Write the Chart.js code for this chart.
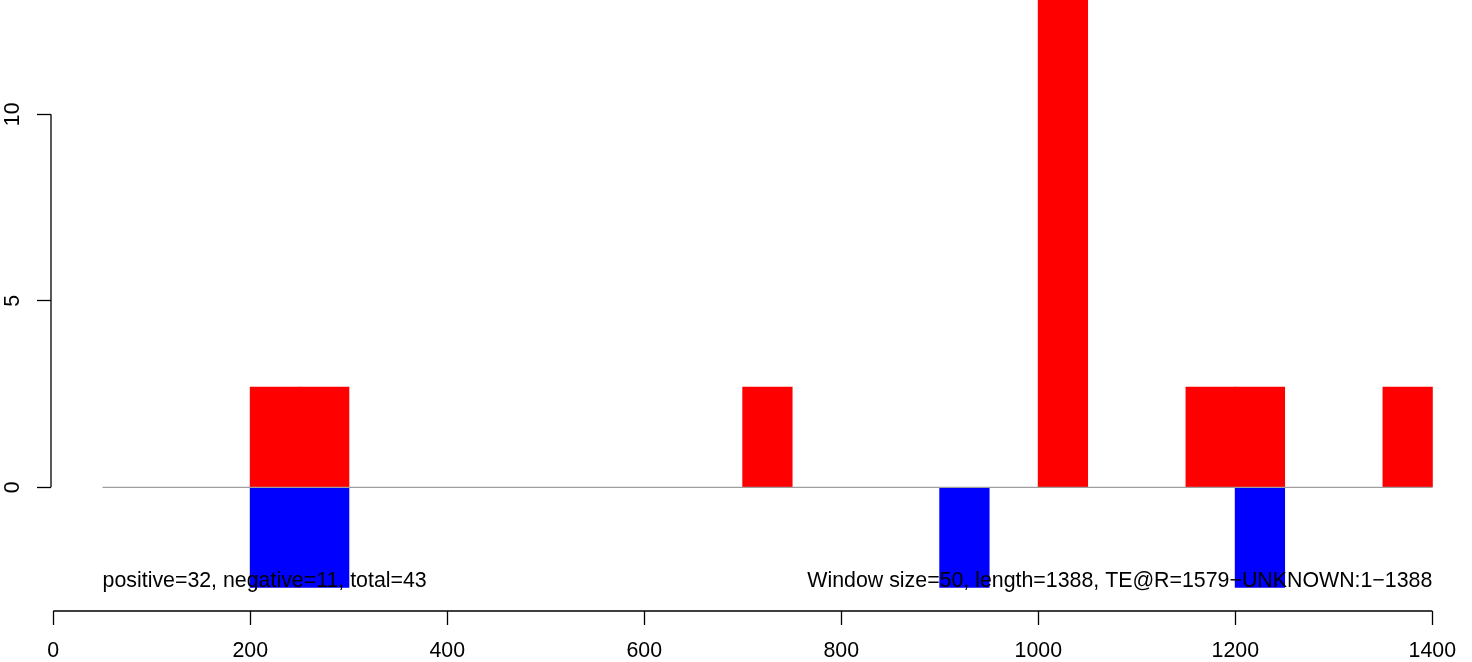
<!DOCTYPE html>
<html>
<head>
<meta charset="utf-8">
<script src="https://cdn.jsdelivr.net/npm/chart.js@4.4.1/dist/chart.umd.min.js"></script>
<style>
  html, body { margin: 0; padding: 0; background: #ffffff; }
  #wrap { width: 1472px; height: 662px; }
</style>
</head>
<body>
<div id="wrap"><canvas id="c" width="1472" height="662"></canvas></div>
<script>
// ---- data ----
const windowSize = 50;
const windowEnds = [50, 100, 150, 200, 250, 300, 350, 400, 450, 500, 550, 600, 650, 700,
                    750, 800, 850, 900, 950, 1000, 1050, 1100, 1150, 1200, 1250, 1300, 1350, 1400];
const positiveValues = [0, 0, 0, 0, 2.68, 2.68, 0, 0, 0, 0, 0, 0, 0, 0,
                        2.68, 0, 0, 0, 0, 0, 13.4, 0, 0, 2.68, 2.68, 0, 0, 2.68];
const negativeValues = [0, 0, 0, 0, -2.68, -2.68, 0, 0, 0, 0, 0, 0, 0, 0,
                        0, 0, 0, 0, -2.68, 0, 0, 0, 0, 0, -2.68, 0, 0, 0];
const xTickValues = [0, 200, 400, 600, 800, 1000, 1200, 1400];
const yTickValues = [0, 5, 10];
const leftNote = 'positive=32, negative=11, total=43';
const rightNote = 'Window size=50, length=1388, TE@R=1579\u2212UNKNOWN:1\u22121388';

const FONT = '"Liberation Sans", Arial, Helvetica, sans-serif';
const FSIZE = 21.35;

const toBars = vals => vals
  .map((v, i) => ({ x: windowEnds[i] - windowSize / 2, y: v }))
  .filter(p => p.y !== 0);
const zeroLine = [
  { x: windowEnds[0], y: 0 },
  { x: windowEnds[windowEnds.length - 1], y: 0 }
];

const axesPlugin = {
  id: 'rAxes',
  afterDatasetsDraw(chart) {
    const ctx = chart.ctx;
    const xs = chart.scales.x, ys = chart.scales.y;
    const area = chart.chartArea;
    ctx.save();
    // annotation texts
    ctx.fillStyle = '#000000';
    ctx.font = FSIZE + 'px ' + FONT;
    ctx.textBaseline = 'alphabetic';
    const ty = ys.getPixelForValue(Math.min(...negativeValues));
    ctx.textAlign = 'left';
    ctx.fillText(leftNote, xs.getPixelForValue(windowEnds[0]), ty);
    ctx.textAlign = 'right';
    ctx.fillText(rightNote, xs.getPixelForValue(windowEnds[windowEnds.length - 1]), ty);
    // axis lines spanning first..last tick
    ctx.strokeStyle = '#000000';
    ctx.lineWidth = 1.3;
    ctx.beginPath();
    const yx = area.left;
    ctx.moveTo(yx, ys.getPixelForValue(yTickValues[0]));
    ctx.lineTo(yx, ys.getPixelForValue(yTickValues[yTickValues.length - 1]));
    const xy = area.bottom;
    ctx.moveTo(xs.getPixelForValue(xTickValues[0]), xy);
    ctx.lineTo(xs.getPixelForValue(xTickValues[xTickValues.length - 1]), xy);
    ctx.stroke();
    ctx.restore();
  }
};

new Chart(document.getElementById('c'), {
  type: 'bar',
  data: {
    datasets: [
      {
        type: 'line',
        data: zeroLine,
        borderColor: '#9e9e9e',
        borderWidth: 1.2,
        pointRadius: 0,
        fill: false
      },
      {
        data: toBars(positiveValues),
        backgroundColor: '#ff0000',
        borderWidth: 0,
        inflateAmount: 0.5,
        grouped: false,
        barPercentage: 1,
        categoryPercentage: 1
      },
      {
        data: toBars(negativeValues),
        backgroundColor: '#0000ff',
        borderWidth: 0,
        inflateAmount: 0.5,
        grouped: false,
        barPercentage: 1,
        categoryPercentage: 1
      }
    ]
  },
  options: {
    responsive: false,
    animation: false,
    events: [],
    layout: { padding: { left: 0, top: 0, right: 20, bottom: 0 } },
    plugins: { legend: { display: false }, tooltip: { enabled: false } },
    scales: {
      x: {
        type: 'linear',
        position: 'bottom',
        offset: false,
        min: -2.335,
        max: 1420,
        afterBuildTicks: s => { s.ticks = xTickValues.map(v => ({ value: v })); },
        afterFit: s => {
          s.height = 51;
          s.paddingLeft = 0; s.paddingRight = 0; s.paddingTop = 0; s.paddingBottom = 0;
        },
        ticks: {
          autoSkip: false,
          maxRotation: 0,
          minRotation: 0,
          padding: 13,
          color: '#000000',
          font: { family: FONT, size: FSIZE },
          callback: v => String(v)
        },
        grid: {
          offset: false,
          drawOnChartArea: false,
          drawTicks: true,
          tickLength: 14,
          tickColor: '#000000',
          tickWidth: 1.3
        },
        border: { display: false }
      },
      y: {
        type: 'linear',
        position: 'left',
        min: -3.316,
        max: 13.064,
        afterBuildTicks: s => { s.ticks = yTickValues.map(v => ({ value: v })); },
        afterFit: s => {
          s.width = 51;
          s.paddingLeft = 0; s.paddingRight = 0; s.paddingTop = 0; s.paddingBottom = 0;
        },
        ticks: {
          autoSkip: false,
          minRotation: 90,
          maxRotation: 90,
          crossAlign: 'center',
          padding: 12,
          color: '#000000',
          font: { family: FONT, size: FSIZE },
          callback: v => String(v)
        },
        grid: {
          drawOnChartArea: false,
          drawTicks: true,
          tickLength: 14,
          tickColor: '#000000',
          tickWidth: 1.3
        },
        border: { display: false }
      }
    }
  },
  plugins: [axesPlugin]
});
</script>
</body>
</html>
